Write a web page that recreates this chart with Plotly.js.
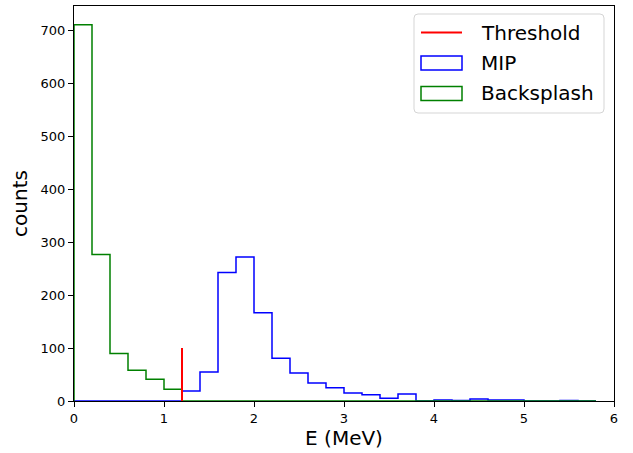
<!DOCTYPE html>
<html>
<head>
<meta charset="utf-8">
<script src="https://cdn.plot.ly/plotly-3.0.1.min.js"></script>
<style>html,body{margin:0;padding:0;background:#fff;}#chart{width:633px;height:453px;}</style>
</head>
<body>
<div id="chart"></div>
<script>
// ---- data ----
const binEdges = [0.0,0.2,0.4,0.6,0.8,1.0,1.2,1.4,1.6,1.8,2.0,2.2,2.4,2.6,2.8,3.0,3.2,3.4,3.6,3.8,4.0,4.2,4.4,4.6,4.8,5.0,5.2,5.4,5.6,5.8];
const mipCounts = [0,0,0,0,0,0,19,55,243,272,167,81,53,34,25,15,12,5,13,0,2,1,4,2,2,0,0,1,0];
const backsplashCounts = [711,277,90,58,41,22,0,0,0,0,0,0,0,0,0,0,0,0,0,0,0,0,0,0,0,0,0,0,0];
const thresholdE = 1.2;
const thresholdHeight = 100;
const xTicks = [0,1,2,3,4,5,6];
const yTicks = [0,100,200,300,400,500,600,700];
const legendLabels = ["Threshold","MIP","Backsplash"];

function stepOutline(edges, counts) {
  const n = counts.length;
  const x = [edges[0]].concat(edges.slice(0, n));
  const y = [0].concat(counts);
  x.push(edges[n]); y.push(counts[n-1]);
  x.push(edges[n]); y.push(0);
  return {x, y};
}

const mip = stepOutline(binEdges, mipCounts);
const bs = stepOutline(binEdges, backsplashCounts);

const FONT = "DejaVu Sans, sans-serif";

const traces = [
  {x: mip.x, y: mip.y, type: "scatter", mode: "lines", line: {shape: "hv", color: "#0000ff", width: 1.5}, name: "MIP", showlegend: false, hoverinfo: "skip"},
  {x: bs.x, y: bs.y, type: "scatter", mode: "lines", line: {shape: "hv", color: "#008000", width: 1.5}, name: "Backsplash", showlegend: false, hoverinfo: "skip"},
  {x: [thresholdE, thresholdE], y: [0, thresholdHeight], type: "scatter", mode: "lines", line: {color: "#ff0000", width: 2}, name: "Threshold", showlegend: false, hoverinfo: "skip"}
];

// manual matplotlib-style legend (paper coords)
const L = 74, R = 614, T = 6, B = 401;
const px = v => (v - L) / (R - L);
const py = v => (B - v) / (B - T);
function roundRect(x0, y0, x1, y1, r) {
  const rx = r / (R - L), ry = r / (B - T);
  const a = px(x0), b = px(x1), c = py(y0), d = py(y1);
  return `M${a+rx},${c} L${b-rx},${c} Q${b},${c} ${b},${c-ry} L${b},${d+ry} Q${b},${d} ${b-rx},${d} L${a+rx},${d} Q${a},${d} ${a},${d+ry} L${a},${c-ry} Q${a},${c} ${a+rx},${c} Z`;
}
const shapes = [
  {type: "path", xref: "paper", yref: "paper", path: roundRect(414, 14, 604, 113, 4), line: {color: "#d5d5d5", width: 1}, fillcolor: "rgba(255,255,255,0.8)", layer: "above"},
  {type: "line", xref: "paper", yref: "paper", x0: px(421), x1: px(462), y0: py(32.5), y1: py(32.5), line: {color: "#ff0000", width: 2}, layer: "above"},
  {type: "rect", xref: "paper", yref: "paper", x0: px(421), x1: px(462), y0: py(56), y1: py(70), line: {color: "#0000ff", width: 1.5}, fillcolor: "rgba(0,0,0,0)", layer: "above"},
  {type: "rect", xref: "paper", yref: "paper", x0: px(421), x1: px(462), y0: py(86.5), y1: py(100.5), line: {color: "#008000", width: 1.5}, fillcolor: "rgba(0,0,0,0)", layer: "above"}
];
const rowsY = [32.5, 63, 93.5];
const annotations = legendLabels.map((t, i) => ({
  text: t, xref: "paper", yref: "paper", x: px(479), y: py(rowsY[i]), xanchor: "left", yanchor: "middle",
  showarrow: false, font: {family: FONT, size: 20, color: "#000"}
}));

const layout = {
  width: 633, height: 453,
  margin: {l: 74, r: 19, t: 6, b: 52, pad: 0},
  paper_bgcolor: "#ffffff", plot_bgcolor: "#ffffff",
  showlegend: false,
  font: {family: FONT, color: "#000"},
  xaxis: {
    range: [0, 6], tickvals: xTicks, ticktext: xTicks.map(String),
    showgrid: false, zeroline: false, showline: true, mirror: true, linecolor: "#000", linewidth: 1,
    ticks: "outside", ticklen: 5, tickwidth: 1, tickcolor: "#000",
    tickfont: {family: FONT, size: 13, color: "#000"},
    title: {text: "E (MeV)", font: {family: FONT, size: 20, color: "#000"}, standoff: 6}
  },
  yaxis: {
    range: [0, 746.55], tickvals: yTicks, ticktext: yTicks.map(String),
    showgrid: false, zeroline: false, showline: true, mirror: true, linecolor: "#000", linewidth: 1,
    ticks: "outside", ticklen: 5, tickwidth: 1, tickcolor: "#000",
    tickfont: {family: FONT, size: 13, color: "#000"},
    title: {text: "counts", font: {family: FONT, size: 20, color: "#000"}, standoff: 7}
  },
  shapes: shapes,
  annotations: annotations
};

Plotly.newPlot("chart", traces, layout, {displayModeBar: false, staticPlot: true});
</script>
</body>
</html>
